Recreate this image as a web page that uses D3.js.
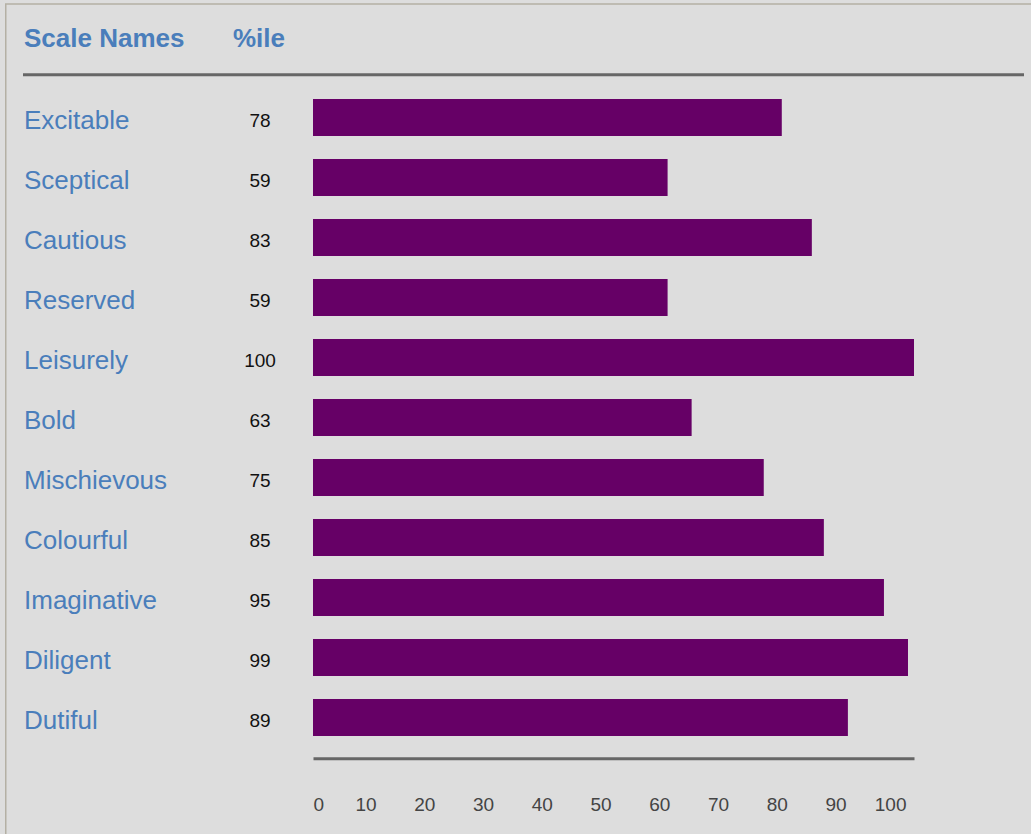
<!DOCTYPE html>
<html>
<head>
<meta charset="utf-8">
<script src="https://cdn.jsdelivr.net/npm/d3@7"></script>
<style>
  html, body { margin: 0; padding: 0; background: #dddddd; }
  svg { display: block; }
</style>
</head>
<body>
<div id="chart"></div>
<script>
// Scale names and their percentile scores
const scaleNames = ["Excitable", "Sceptical", "Cautious", "Reserved", "Leisurely", "Bold",
  "Mischievous", "Colourful", "Imaginative", "Diligent", "Dutiful"];
const percentiles = [78, 59, 83, 59, 100, 63, 75, 85, 95, 99, 89];
const tickLabels = [0, 10, 20, 30, 40, 50, 60, 70, 80, 90, 100];

const width = 1031;
const height = 834;
const blue = "#4a7ebb";
const font = "'Liberation Sans', Arial, sans-serif";

const data = scaleNames.map((name, i) => ({name: name, score: percentiles[i]}));

const svg = d3.select("#chart")
  .append("svg")
  .attr("width", width)
  .attr("height", height);

// background + frame
svg.append("rect")
  .attr("width", width).attr("height", height)
  .attr("fill", "#dddddd");
svg.append("rect")
  .attr("x", 5.75).attr("y", 4)
  .attr("width", width + 20).attr("height", height + 20)
  .attr("fill", "none")
  .attr("stroke", "#b4b0a4")
  .attr("stroke-width", 1.5);

// scales
const xScale = d3.scaleLinear()
  .domain([0, 100])
  .range([313, 914]);

const yScale = d3.scaleBand()
  .domain(scaleNames)
  .range([87.5, 747.5])
  .paddingInner(23 / 60)
  .paddingOuter(23 / 120);

// tick labels sit on a slightly narrower scale than the bars
const tickScale = d3.scaleLinear()
  .domain([0, 100])
  .range([306.75, 894.25]);

// header
svg.append("text")
  .attr("x", 24).attr("y", 47)
  .attr("font-family", font).attr("font-size", "26px").attr("font-weight", "bold")
  .attr("fill", blue)
  .text("Scale Names");
svg.append("text")
  .attr("x", 233).attr("y", 47)
  .attr("font-family", font).attr("font-size", "26px").attr("font-weight", "bold")
  .attr("fill", blue)
  .text("%ile");

svg.append("line")
  .attr("x1", 23).attr("x2", 1024)
  .attr("y1", 74.7).attr("y2", 74.7)
  .attr("stroke", "#666666")
  .attr("stroke-width", 3);

// row labels
svg.selectAll(".label")
  .data(data)
  .enter()
  .append("text")
    .attr("class", "label")
    .attr("x", 24)
    .attr("y", d => yScale(d.name) + yScale.bandwidth() / 2 + 11.5)
    .attr("font-family", font).attr("font-size", "26px")
    .attr("fill", blue)
    .text(d => d.name);

// percentile values
svg.selectAll(".value")
  .data(data)
  .enter()
  .append("text")
    .attr("class", "value")
    .attr("x", 260)
    .attr("y", d => yScale(d.name) + yScale.bandwidth() / 2 + 9)
    .attr("text-anchor", "middle")
    .attr("font-family", font).attr("font-size", "19px")
    .attr("fill", "#111111")
    .text(d => d.score);

// bars
svg.selectAll(".bar")
  .data(data)
  .enter()
  .append("rect")
    .attr("class", "bar")
    .attr("x", xScale(0))
    .attr("y", d => yScale(d.name))
    .attr("width", d => xScale(d.score) - xScale(0))
    .attr("height", yScale.bandwidth())
    .attr("fill", "#660066");

// bottom axis line
const axisG = svg.append("g")
  .attr("transform", "translate(0,758.3)")
  .call(d3.axisBottom(xScale).tickValues([]).tickSizeOuter(0));
axisG.select(".domain")
  .attr("stroke", "#666666")
  .attr("stroke-width", 3);

// tick labels
const tickG = svg.append("g")
  .attr("transform", "translate(0,810.5)")
  .call(d3.axisBottom(tickScale).tickValues(tickLabels).tickSize(0));
tickG.select(".domain").remove();
tickG.selectAll("text")
  .attr("y", 0).attr("dy", 0)
  .attr("fill", "#444444")
  .attr("font-family", font).attr("font-size", "19px");
tickG.selectAll(".tick")
  .filter(d => d === 0)
  .select("text")
    .attr("text-anchor", "start")
    .attr("x", xScale(0) - tickScale(0));
tickG.selectAll(".tick")
  .filter(d => d === 100)
  .select("text")
    .attr("text-anchor", "end")
    .attr("x", 906 - tickScale(100));
</script>
</body>
</html>
